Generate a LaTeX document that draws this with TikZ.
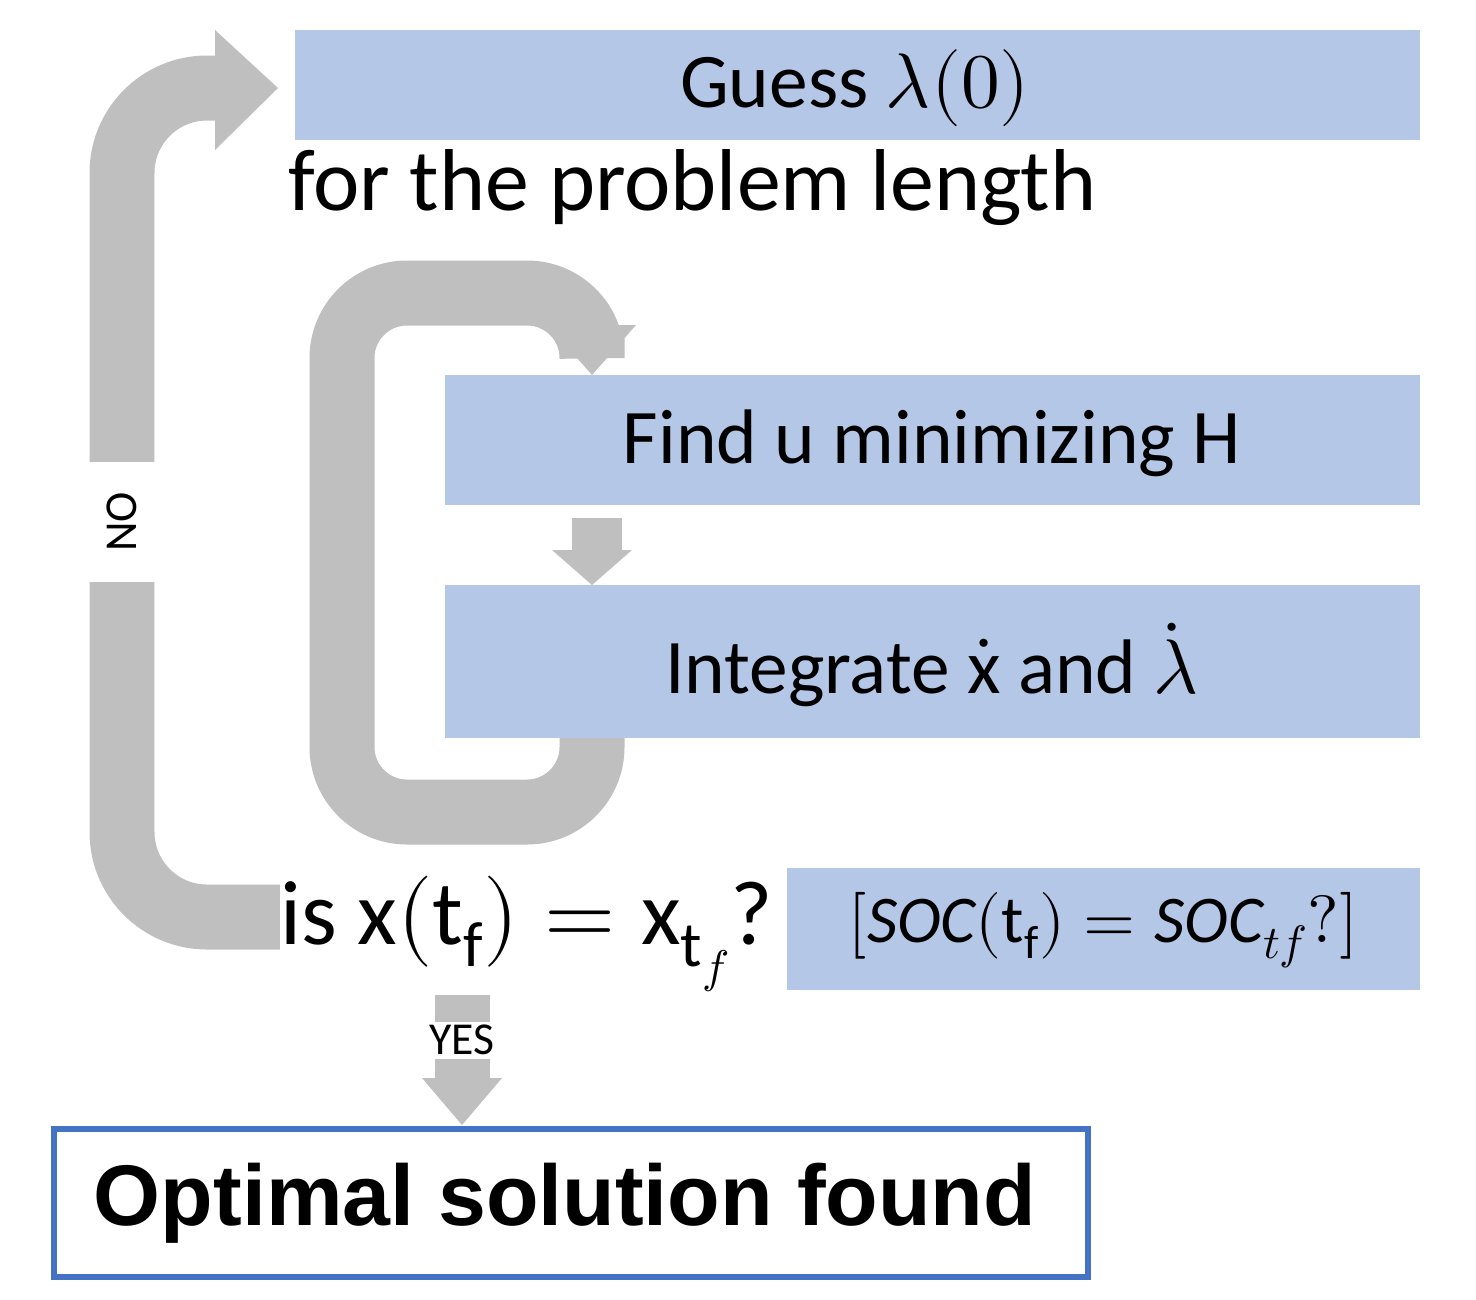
\documentclass[tikz,border=0pt]{standalone}
\usepackage{fontspec}
\usepackage{unicode-math}
\setmainfont{Carlito}
\setmathfont{Latin Modern Math}
\newfontfamily\boldsans{Liberation Sans}
\definecolor{boxblue}{HTML}{B4C7E7}
\definecolor{arrgray}{HTML}{BFBFBF}
\definecolor{edgeblue}{HTML}{4472C4}
\begin{document}
\begin{tikzpicture}[x=0.02cm,y=-0.02cm,
  band/.style={draw=arrgray,line width=1.3cm},
  big/.style={font=\fontsize{44}{52}\selectfont}]
\useasboundingbox (0,0) rectangle (1476,1299);
% boxes
\fill[boxblue] (295,30) rectangle (1420,140);
\fill[boxblue] (445,375) rectangle (1420,505);
\fill[boxblue] (445,585) rectangle (1420,738);
\fill[boxblue] (787,868) rectangle (1420,990);
% outer NO loop
\draw[band,rounded corners=1.7cm] (280,917) -- (122,917) -- (122,88) -- (225,88);
\fill[arrgray] (215,30) -- (278,88) -- (215,150) -- cycle;
\node[fill=white,minimum width=1.5cm,minimum height=2.4cm,inner sep=0pt] (no) at (122,522) {};
\node[rotate=90,font=\fontsize{26}{30}\selectfont] at (122,522) {NO};
% inner loop
\draw[band,rounded corners=1.3cm] (592,738) -- (592,812) -- (342,812) -- (342,293) -- (592,293) -- (592,335);
\fill[arrgray] (548,325) -- (636,325) -- (592,375) -- cycle;
% small arrow between boxes
\fill[arrgray] (572,518) rectangle (622,552);
\fill[arrgray] (552,550) -- (632,550) -- (592,585) -- cycle;
% YES arrow
\fill[arrgray] (435,995) rectangle (490,1080);
\fill[arrgray] (422,1078) -- (502,1078) -- (462,1125) -- cycle;
\node[fill=white,inner sep=2pt,font=\fontsize{26}{30}\selectfont] (yes) at (462,1040) {YES};
% texts
\node[big] (g) at (855,88) {Guess $\lambda(0)$};
\node[font=\fontsize{50}{58}\selectfont,anchor=west] (fp) at (282,188) {for the problem length};
\node[big] (f) at (932,443) {Find $\mathrm{u}$ minimizing $\mathrm{H}$};
\node[big] (i) at (932,665) {Integrate $\dot{\mathrm{x}}$ and $\dot{\lambda}$};
\node[font=\fontsize{52}{60}\selectfont,anchor=west,fill=white,inner sep=0pt] (is) at (280,934) {is $\mathrm{x}(\mathrm{t_f})=\mathrm{x}_{\mathrm{t}_{f}}$?};
\node[font=\fontsize{38}{44}\selectfont] (soc) at (1103,930) {$[\mathit{SOC}(\mathrm{t_f})=\mathit{SOC}_{tf}?]$};
% final box
\node[draw=edgeblue,line width=0.12cm,fill=white,minimum width=20.7cm,minimum height=2.95cm,inner sep=0pt] (opt) at (571,1203) {};
\node[font=\boldsans\bfseries\fontsize{49}{56}\selectfont] at (565,1203) {Optimal solution found};
\end{tikzpicture}
\end{document}
